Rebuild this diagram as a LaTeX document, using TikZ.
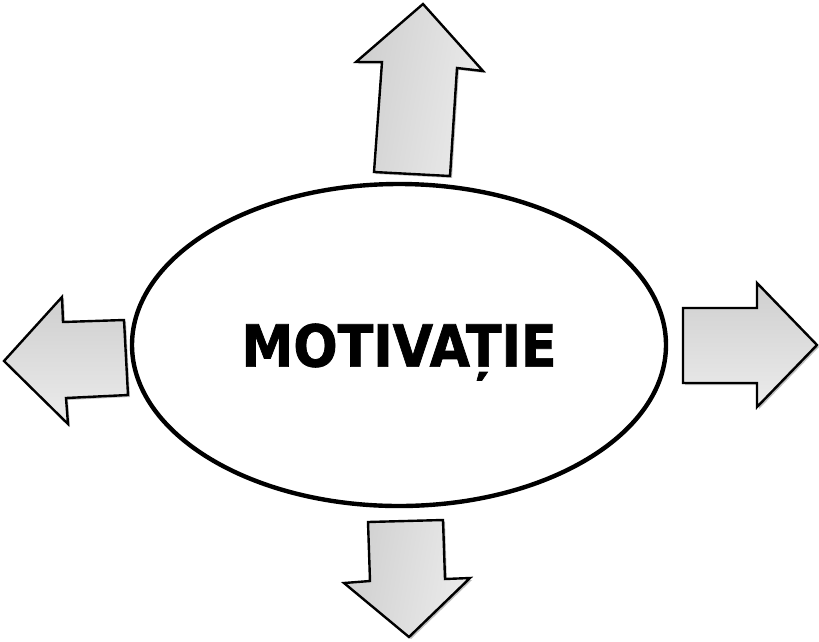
\documentclass[tikz,border=0pt]{standalone}
\usepackage{fontspec}
\newfontfamily\titlefont[FakeStretch=0.9,FakeBold=1.2]{DejaVu Sans Bold}
\usetikzlibrary{shadows,shapes.geometric}
\tikzset{
  bigarrow/.style={draw=black, line width=2.4pt, line join=miter,
    top color=gray!38, bottom color=gray!15, shading angle=#1,
    drop shadow={shadow xshift=2pt, shadow yshift=-2pt, opacity=0.25, fill=black}},
  oval/.style={ellipse, draw=black, line width=4.4pt, fill=white,
    minimum width=534pt, minimum height=322pt, inner sep=0pt,
    drop shadow={shadow xshift=1.5pt, shadow yshift=-1.5pt, opacity=0.3, fill=black}},
}
\begin{document}
\begin{tikzpicture}[x=1pt,y=-1pt]
\useasboundingbox (0,0) rectangle (819,641);
% top arrow
\path[bigarrow=80] (423,4) -- (483,71) -- (457,68) -- (450,176) -- (374,172) -- (382,62) -- (356,62) -- cycle;
% left arrow
\path[bigarrow=0] (4,361) -- (62,297) -- (63,322) -- (124,320) -- (128,395) -- (66,398) -- (68,424) -- cycle;
% right arrow
\path[bigarrow=0] (683,308) -- (757,308) -- (757,283) -- (817,345) -- (757,407) -- (757,383) -- (683,383) -- cycle;
% bottom arrow
\path[bigarrow=80] (368,522) -- (443,520) -- (445,579) -- (470,578) -- (409,637) -- (344,583) -- (370,581) -- cycle;
% ellipse
\node[oval] (m) at (399,345) {};
\node (t) at (399,352) {\titlefont\fontsize{58}{60}\selectfont MOTIVAȚIE};
\end{tikzpicture}
\end{document}
